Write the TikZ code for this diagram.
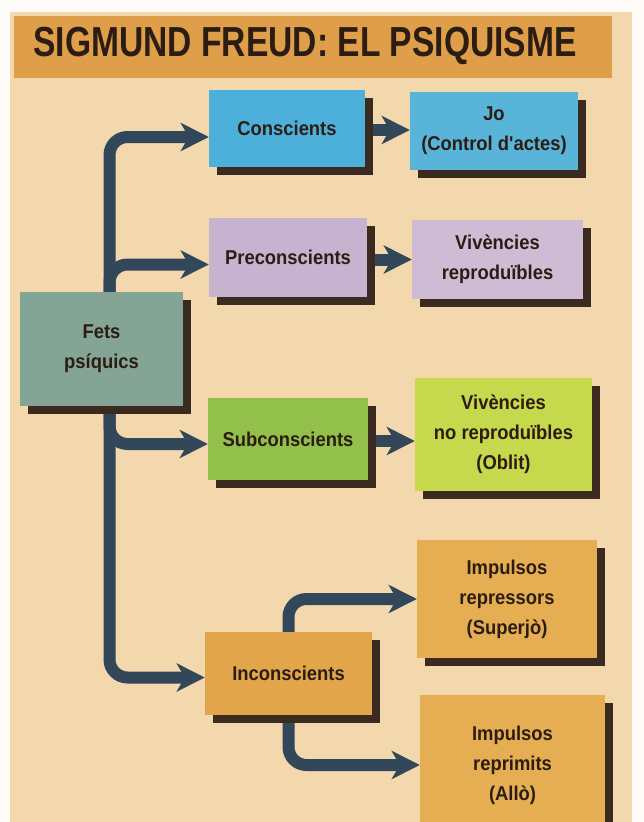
\documentclass[tikz,border=0pt]{standalone}
\usepackage{fontspec}
\setmainfont{Liberation Sans}
\newfontfamily\boxfont{Liberation Sans}[FakeStretch=0.92]
\newfontfamily\titlefont{Liberation Sans}[FakeStretch=0.8]
\usetikzlibrary{arrows.meta,shadows}
\definecolor{pagebg}{HTML}{F2D8AC}
\definecolor{bannerc}{HTML}{DE9E4A}
\definecolor{inkc}{HTML}{2B1D14}
\definecolor{shadowc}{HTML}{3A2A1F}
\definecolor{pipec}{HTML}{33475A}
\definecolor{conscc}{HTML}{4DB0DB}
\definecolor{joc}{HTML}{58B4D9}
\definecolor{precc}{HTML}{C7B2D0}
\definecolor{vrepc}{HTML}{CFBBD4}
\definecolor{fetsc}{HTML}{84A595}
\definecolor{subcc}{HTML}{92C04A}
\definecolor{vnorc}{HTML}{C6D84B}
\definecolor{inconc}{HTML}{E2A54A}
\definecolor{impc}{HTML}{E6AE52}
\pgfdeclarelayer{back}
\pgfdeclarelayer{pipes}
\pgfsetlayers{back,pipes,main}

\begin{document}
\begin{tikzpicture}[x=1pt,y=-1pt,
  box/.style={fill=#1, text=inkc, align=center, inner sep=0pt,
    font=\boxfont\bfseries\fontsize{20}{30}\selectfont,
    drop shadow={shadow xshift=8pt, shadow yshift=-8pt, fill=shadowc, opacity=1}},
  pipe/.style={draw=pipec, line width=12pt, rounded corners=18pt,
    -{Stealth[length=28pt,width=28pt,inset=8pt]}}]
  \useasboundingbox (0,0) rectangle (644,822);
  \begin{pgfonlayer}{back}
    \fill[white!92!pagebg] (0,0) rectangle (644,822);
    \fill[pagebg] (10,12) rectangle (632,822);
    \fill[bannerc] (14,16) rectangle (612,78);
  \end{pgfonlayer}
  \node[text=inkc, font=\titlefont\bfseries\fontsize{42}{46}\selectfont] (title) at (305,46)
    {SIGMUND FREUD: EL PSIQUISME};

  \node[box=fetsc, minimum width=163pt, minimum height=114pt] (fets) at (101.5,349) {Fets\\psíquics};
  \node[box=conscc, minimum width=156pt, minimum height=77pt] (consc) at (287,128) {Conscients};
  \node[box=joc, minimum width=168pt, minimum height=78pt] (jo) at (494,131) {Jo\\(Control d'actes)};
  \node[box=precc, minimum width=158pt, minimum height=79pt] (precon) at (288,257.5) {Preconscients};
  \node[box=vrepc, minimum width=171pt, minimum height=79pt] (vrep) at (497.5,259) {Vivències\\reproduïbles};
  \node[box=subcc, minimum width=160pt, minimum height=82pt] (subc) at (288,439) {Subconscients};
  \node[box=vnorc, minimum width=177pt, minimum height=113pt] (vnorep) at (503.5,434) {Vivències\\no reproduïbles\\(Oblit)};
  \node[box=inconc, minimum width=167pt, minimum height=83pt] (incon) at (288.5,673.5) {Inconscients};
  \node[box=impc, minimum width=180pt, minimum height=118pt] (superjo) at (507,599) {Impulsos\\repressors\\(Superjò)};
  \node[box=impc, minimum width=185pt, minimum height=140pt] (allo) at (512.5,765) {Impulsos\\reprimits\\(Allò)};

  \begin{pgfonlayer}{pipes}
    \draw[pipe] ([xshift=8pt]fets.north) |- ([yshift=-9pt]consc.west);
    \draw[pipe] ([xshift=8pt]fets.north) |- ([yshift=-7pt]precon.west);
    \draw[pipe] ([xshift=8pt]fets.south) |- ([yshift=-5pt]subc.west);
    \draw[pipe] ([xshift=8pt]fets.south) |- ([yshift=-4pt]incon.west);
    \draw[pipe] (incon.north) |- (superjo.west);
    \draw[pipe] (incon.south) |- (allo.west);
    \foreach \a/\b in {consc/jo,precon/vrep,subc/vnorep}
      \draw[pipe] ([yshift=-2pt]\a.east) -- ([yshift=-2pt]\a.east -| \b.west);
  \end{pgfonlayer}
\end{tikzpicture}
\end{document}
